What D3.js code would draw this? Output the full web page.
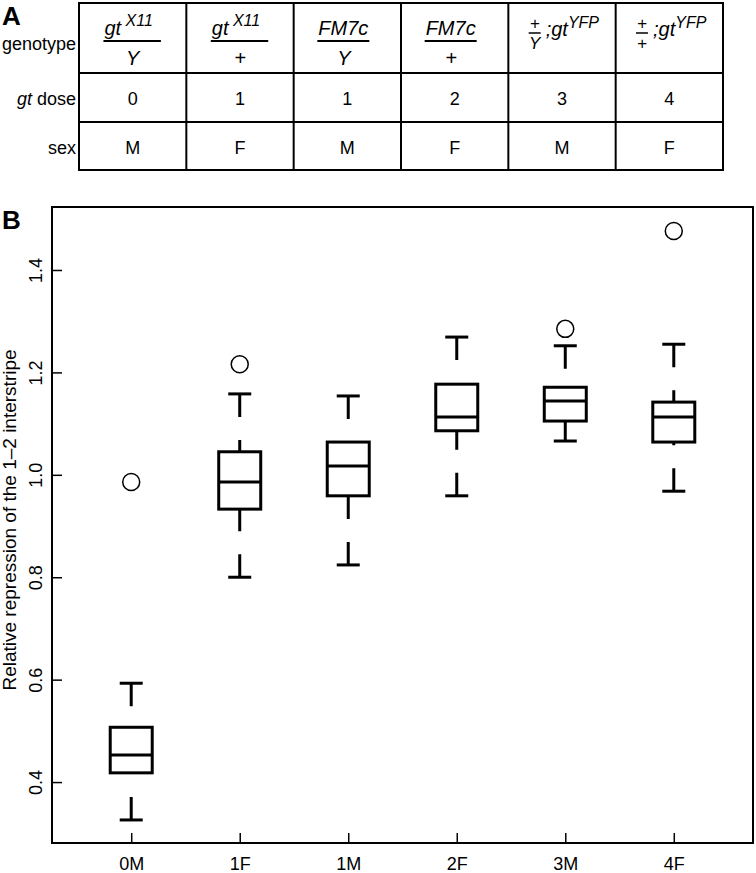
<!DOCTYPE html>
<html>
<head>
<meta charset="utf-8">
<script src="https://cdn.jsdelivr.net/npm/d3@7"></script>
<style>
  body { margin: 0; background: #fff; }
  svg { display: block; font-family: "Liberation Sans", Arial, Helvetica, sans-serif; }
</style>
</head>
<body>
<script>
// categories and box plot statistics
const categories = ["0M", "1F", "1M", "2F", "3M", "4F"];
const whiskerLow = [0.326, 0.800, 0.824, 0.959, 1.066, 0.968];
const q1 = [0.418, 0.933, 0.959, 1.086, 1.105, 1.064];
const median = [0.453, 0.986, 1.017, 1.113, 1.144, 1.113];
const q3 = [0.507, 1.045, 1.064, 1.177, 1.171, 1.142];
const whiskerHigh = [0.593, 1.158, 1.154, 1.269, 1.252, 1.255];
const outliers = [[0.986], [1.216], [], [], [1.285], [1.476]];
const yTicks = [0.4, 0.6, 0.8, 1.0, 1.2, 1.4];

// table A
const genoNum = ["gt", "gt", "FM7c", "FM7c", "+", "+"];
const genoNumSup = ["X11", "X11", "", "", "", ""];
const genoDen = ["Y", "+", "Y", "+", "Y", "+"];
const genoSuffix = ["", "", "", "", ";gt", ";gt"];
const genoSuffixSup = ["", "", "", "", "YFP", "YFP"];
const doses = ["0", "1", "1", "2", "3", "4"];
const sexes = ["M", "F", "M", "F", "M", "F"];

const width = 756, height = 873;

var svg = d3.select("body")
            .append("svg")
            .attr("width", width)
            .attr("height", height);

// ---------- panel A ----------
svg.append("text")
   .attr("x", 2).attr("y", 25)
   .attr("font-size", 26).attr("font-weight", "bold")
   .text("A");

var col = d3.scaleBand()
            .domain(categories)
            .range([79, 723]);

let rowLines = [3, 73, 122, 170];
let tbl = svg.append("g").attr("stroke", "black").attr("stroke-width", 2);
rowLines.forEach(function(yy) {
    tbl.append("line").attr("x1", 78).attr("x2", 724).attr("y1", yy).attr("y2", yy);
});
categories.concat([null]).forEach(function(c, i) {
    let xx = i < categories.length ? col(c) : 723;
    tbl.append("line").attr("x1", xx).attr("x2", xx).attr("y1", 3).attr("y2", 170);
});

// row labels
svg.append("text").attr("x", 76).attr("y", 50).attr("text-anchor", "end")
   .attr("font-size", 18).text("genotype");
let doseLab = svg.append("text").attr("x", 76).attr("y", 105).attr("text-anchor", "end")
   .attr("font-size", 18);
doseLab.append("tspan").attr("font-style", "italic").text("gt");
doseLab.append("tspan").text(" dose");
svg.append("text").attr("x", 76).attr("y", 154).attr("text-anchor", "end")
   .attr("font-size", 18).text("sex");

categories.forEach(function(c, i) {
    let cx = col(c) + col.bandwidth() / 2;
    svg.append("text").attr("x", cx).attr("y", 105).attr("text-anchor", "middle")
       .attr("font-size", 18).text(doses[i]);
    svg.append("text").attr("x", cx).attr("y", 154).attr("text-anchor", "middle")
       .attr("font-size", 18).text(sexes[i]);

    if (genoSuffix[i] === "") {
        // big fraction
        let fx = cx - 4;
        let num = svg.append("text").attr("x", fx).attr("y", 35)
                     .attr("text-anchor", "middle")
                     .attr("font-size", 20).attr("font-style", "italic");
        num.append("tspan").text(genoNum[i]);
        if (genoNumSup[i]) {
            num.append("tspan").attr("font-size", 16).attr("dy", -9).text(" " + genoNumSup[i]);
        }
        let bb = num.node().getBBox();
        let extra = genoNumSup[i] ? 8 : 1;
        svg.append("line")
           .attr("x1", bb.x - 1).attr("x2", bb.x + bb.width + extra)
           .attr("y1", 41).attr("y2", 41)
           .attr("stroke", "black").attr("stroke-width", 2);
        svg.append("text").attr("x", bb.x + (bb.width + extra) / 2).attr("y", 65)
           .attr("text-anchor", "middle")
           .attr("font-size", 20).attr("font-style", "italic")
           .text(genoDen[i]);
    }
    else {
        // small fraction followed by ;gt^YFP
        let g = svg.append("g");
        g.append("text").attr("x", 0).attr("y", 29).attr("text-anchor", "middle")
         .attr("font-size", 17).attr("font-style", "italic").text(genoNum[i]);
        g.append("line").attr("x1", -6).attr("x2", 6).attr("y1", 33).attr("y2", 33)
         .attr("stroke", "black").attr("stroke-width", 1.5);
        g.append("text").attr("x", 0).attr("y", 49).attr("text-anchor", "middle")
         .attr("font-size", 17).attr("font-style", "italic").text(genoDen[i]);
        let suf = g.append("text").attr("x", 11).attr("y", 36)
                   .attr("font-size", 20).attr("font-style", "italic");
        suf.append("tspan").text(genoSuffix[i]);
        suf.append("tspan").attr("font-size", 16).attr("dy", -8).text(genoSuffixSup[i]);
        let bb = g.node().getBBox();
        g.attr("transform", `translate(${cx + 2 - (bb.x + bb.width / 2)},0)`);
    }
});

// ---------- panel B ----------
svg.append("text")
   .attr("x", 2).attr("y", 229)
   .attr("font-size", 26).attr("font-weight", "bold")
   .text("B");

let plotLeft = 52, plotRight = 753, plotTop = 207, plotBottom = 843;

var x = d3.scalePoint()
          .domain(categories)
          .range([plotLeft, plotRight])
          .padding(0.73);

var y = d3.scaleLinear()
          .domain([0.281, 1.523])
          .range([plotBottom, plotTop]);

var yAxis = d3.axisLeft(y).tickValues(yTicks).tickSize(-10)
              .tickFormat(d3.format(".1f"));
var xAxis = d3.axisBottom(x).tickSize(-10);

let gy = svg.append("g")
   .attr("transform", `translate(${plotLeft},0)`)
   .call(yAxis);
gy.select(".domain").remove();
gy.selectAll("line").attr("stroke-width", 1.5);
gy.selectAll("text")
  .attr("transform", "rotate(-90)")
  .attr("x", 0).attr("y", -10).attr("dy", 0)
  .attr("text-anchor", "middle")
  .attr("font-size", 18).attr("font-family", null).attr("fill", "black");

let gx = svg.append("g")
   .attr("transform", `translate(0,${plotBottom})`)
   .call(xAxis);
gx.select(".domain").remove();
gx.selectAll("line").attr("stroke-width", 1.5);
gx.selectAll("text")
  .attr("y", 27).attr("dy", 0)
  .attr("font-size", 18).attr("font-family", null).attr("fill", "black");

svg.append("rect")
   .attr("x", plotLeft).attr("y", plotTop)
   .attr("width", plotRight - plotLeft).attr("height", plotBottom - plotTop)
   .attr("fill", "none").attr("stroke", "black").attr("stroke-width", 2);

svg.append("text")
   .attr("transform", `translate(16,${(plotTop + plotBottom) / 2 - 5}) rotate(-90)`)
   .attr("text-anchor", "middle")
   .attr("font-size", 19)
   .text("Relative repression of the 1\u20132 interstripe");

let boxHalf = 21, capHalf = 11.5;
categories.forEach(function(c, i) {
    let cx = x(c);
    let g = svg.append("g").attr("stroke", "black").attr("fill", "none");
    // whiskers, dashed, drawn from the cap towards the box
    g.append("line")
     .attr("x1", cx).attr("x2", cx)
     .attr("y1", y(whiskerHigh[i])).attr("y2", y(q3[i]))
     .attr("stroke-width", 3).attr("stroke-dasharray", "23,23");
    g.append("line")
     .attr("x1", cx).attr("x2", cx)
     .attr("y1", y(whiskerLow[i])).attr("y2", y(q1[i]))
     .attr("stroke-width", 3).attr("stroke-dasharray", "23,23");
    // caps
    [whiskerHigh[i], whiskerLow[i]].forEach(function(v) {
        g.append("line")
         .attr("x1", cx - capHalf).attr("x2", cx + capHalf)
         .attr("y1", y(v)).attr("y2", y(v))
         .attr("stroke-width", 3);
    });
    // box
    g.append("rect")
     .attr("x", cx - boxHalf).attr("width", boxHalf * 2)
     .attr("y", y(q3[i])).attr("height", y(q1[i]) - y(q3[i]))
     .attr("fill", "white").attr("stroke-width", 3);
    g.append("line")
     .attr("x1", cx - boxHalf).attr("x2", cx + boxHalf)
     .attr("y1", y(median[i])).attr("y2", y(median[i]))
     .attr("stroke-width", 3);
    // outliers
    outliers[i].forEach(function(v) {
        g.append("circle")
         .attr("cx", cx).attr("cy", y(v)).attr("r", 8.5)
         .attr("stroke-width", 1.5);
    });
});
</script>
</body>
</html>
